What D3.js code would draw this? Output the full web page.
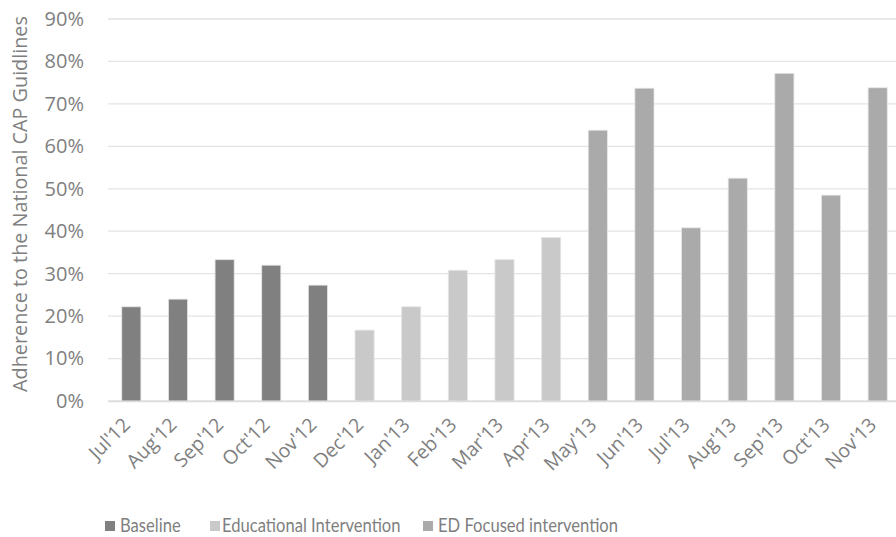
<!DOCTYPE html>
<html>
<head>
<meta charset="utf-8">
<script src="https://cdn.jsdelivr.net/npm/d3@7"></script>
<style>
  body { margin: 0; background: #fff; }
  text { font-family: "Open Sans", sans-serif; fill: #7f7f7f; }
</style>
</head>
<body>
<div id="chart"></div>
<script>
// months on the x axis
const months = ["Jul'12", "Aug'12", "Sep'12", "Oct'12", "Nov'12", "Dec'12", "Jan'13", "Feb'13",
  "Mar'13", "Apr'13", "May'13", "Jun'13", "Jul'13", "Aug'13", "Sep'13", "Oct'13", "Nov'13"];
// adherence (%) per month
const adherence = [22.2, 24.0, 33.3, 32.0, 27.3, 16.7, 22.2, 30.8, 33.3, 38.5,
  63.8, 73.7, 40.8, 52.5, 77.2, 48.5, 73.8];
// which phase each month belongs to
const phase = ["Baseline", "Baseline", "Baseline", "Baseline", "Baseline",
  "Educational Intervention", "Educational Intervention", "Educational Intervention",
  "Educational Intervention", "Educational Intervention",
  "ED Focused intervention", "ED Focused intervention", "ED Focused intervention",
  "ED Focused intervention", "ED Focused intervention", "ED Focused intervention",
  "ED Focused intervention"];
const phases = ["Baseline", "Educational Intervention", "ED Focused intervention"];
const phaseColors = ["#808080", "#c9c9c9", "#aaaaaa"];
const yTicks = [0, 10, 20, 30, 40, 50, 60, 70, 80, 90];

const data = months.map((m, i) => ({ month: m, value: adherence[i], phase: phase[i] }));

let margin = {top: 19, right: -5, bottom: 136, left: 108},
    width = 896 - margin.left - margin.right,
    height = 537 - margin.top - margin.bottom;

let svg = d3.select("#chart")
  .append("svg")
    .attr("width", 896)
    .attr("height", 537)
  .append("g")
    .attr("transform", "translate(" + margin.left + "," + margin.top + ")");

let x = d3.scaleBand()
  .range([0, width])
  .domain(months)
  .paddingInner(0.59)
  .paddingOuter(0.295);

let y = d3.scaleLinear()
  .domain([0, 90])
  .range([height, 0]);

let color = d3.scaleOrdinal().domain(phases).range(phaseColors);

// grid lines
svg.append("g")
  .selectAll("line")
  .data(yTicks)
  .enter()
  .append("line")
    .attr("x1", 0)
    .attr("x2", width)
    .attr("y1", d => y(d))
    .attr("y2", d => y(d))
    .attr("stroke", "#e3e3e3")
    .attr("stroke-width", 1.3);

// y axis
let yAxis = svg.append("g")
  .call(d3.axisLeft(y).tickValues(yTicks).tickFormat(d => d + "%").tickSize(0).tickPadding(24));
yAxis.select(".domain").remove();
yAxis.selectAll("text")
  .style("font-size", "20px")
  .style("font-family", "'Open Sans', sans-serif")
  .style("fill", "#7f7f7f");

// bars
svg.selectAll("rect.bar")
  .data(data)
  .enter()
  .append("rect")
    .attr("class", "bar")
    .attr("x", d => x(d.month))
    .attr("y", d => y(d.value))
    .attr("width", x.bandwidth())
    .attr("height", d => height - y(d.value))
    .attr("fill", d => color(d.phase))
    .attr("stroke", "#e6e6e6")
    .attr("stroke-width", 0.8);

// x axis
let xAxis = svg.append("g")
  .attr("transform", "translate(0," + height + ")")
  .call(d3.axisBottom(x).tickSize(0).tickPadding(0));
xAxis.select(".domain").attr("stroke", "#dcdcdc").attr("stroke-width", 1.3);
xAxis.selectAll("text")
  .style("font-size", "19.5px")
  .style("font-family", "'Open Sans', sans-serif")
  .style("fill", "#7f7f7f")
  .style("text-anchor", "end")
  .attr("dy", 0)
  .attr("transform", "translate(0,25) rotate(-45)");

// y axis title
svg.append("text")
  .attr("transform", "rotate(-90)")
  .attr("x", -height / 2 + 6)
  .attr("y", -margin.left + 27)
  .attr("text-anchor", "middle")
  .style("font-size", "19.8px")
  .text("Adherence to the National CAP Guidlines");

// legend
const legendBoxX = [105, 210, 423];
const legendTextX = [120, 222, 438];
let legend = svg.append("g")
  .attr("transform", "translate(" + (-margin.left) + "," + (527 - margin.top) + ")");
phases.forEach((p, i) => {
  legend.append("rect")
    .attr("x", legendBoxX[i])
    .attr("y", -6)
    .attr("width", 10)
    .attr("height", 10)
    .attr("fill", phaseColors[i]);
  legend.append("text")
    .attr("transform", "translate(" + legendTextX[i] + ",5) scale(0.83,1)")
    .style("font-family", "Lato, sans-serif")
    .style("font-size", "20px")
    .text(p);
});
</script>
</body>
</html>
